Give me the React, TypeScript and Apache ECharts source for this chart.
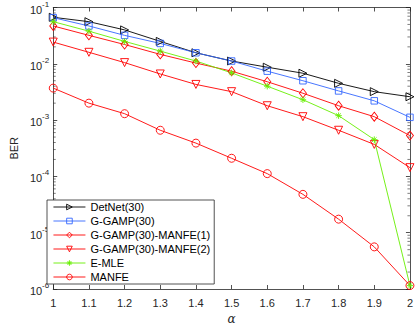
import React, { useEffect, useRef } from "react";
import * as echarts from "echarts";

const alpha = [1, 1.1, 1.2, 1.3, 1.4, 1.5, 1.6, 1.7, 1.8, 1.9, 2];
const detnet = [0.067, 0.056, 0.040, 0.025, 0.0157, 0.0112, 0.0087, 0.0068, 0.0045, 0.0032, 0.0026];
const ggamp = [0.066, 0.047, 0.032, 0.023, 0.0157, 0.0112, 0.0074, 0.0050, 0.0033, 0.0022, 0.00112];
const manfe1 = [0.047, 0.032, 0.022, 0.0147, 0.0103, 0.0074, 0.0048, 0.0030, 0.0018, 0.00115, 0.00053];
const manfe2 = [0.0243, 0.016, 0.0105, 0.0066, 0.0043, 0.0032, 0.0018, 0.00115, 0.00066, 0.00037, 0.000143];
const emle = [0.056, 0.038, 0.025, 0.0168, 0.0112, 0.0069, 0.0040, 0.0023, 0.0012, 0.00045, 0.00000115];
const manfe = [0.0037, 0.0020, 0.0013, 0.00066, 0.00039, 0.00021, 0.000112, 0.000048, 0.0000174, 0.0000056, 0.00000115];

const seriesNames = ["DetNet(30)", "G-GAMP(30)", "G-GAMP(30)-MANFE(1)", "G-GAMP(30)-MANFE(2)", "E-MLE", "MANFE"];
const decadeExponents = [-6, -5, -4, -3, -2];
const minorMultipliers = [2, 3, 4, 5, 6, 7, 8, 9];

const FONT = "Liberation Sans, Arial, Helvetica, sans-serif";
const AX = "#262626";

export default function App() {
  const ref = useRef<HTMLDivElement>(null);
  useEffect(() => {
    if (!ref.current) return;
    const chart = echarts.init(ref.current, undefined, { renderer: "svg" });
    const pairs = (ys: number[]) => alpha.map((a, i) => [a, ys[i]]);
    const minorData: number[][] = [];
    decadeExponents.forEach((e) => minorMultipliers.forEach((m) => minorData.push([1, m * Math.pow(10, e)])));

    const mk = (name: string, ys: number[], color: string, symbol: string, size: any, rotate = 0, filled = false) => ({
      name,
      type: "line",
      data: pairs(ys),
      symbol,
      symbolSize: size,
      symbolRotate: rotate,
      showSymbol: true,
      lineStyle: { color, width: 0.9 },
      itemStyle: { color: filled ? color : "transparent", borderColor: color, borderWidth: 0.9 },
      emphasis: { disabled: true },
      z: 3,
    });

    const xAxisCommon = {
      type: "value",
      min: 1,
      max: 2,
      interval: 0.1,
      axisLine: { show: true, lineStyle: { color: AX, width: 0.8 } },
      axisTick: { show: true, inside: true, length: 4, lineStyle: { color: AX, width: 0.8 } },
      splitLine: { show: false },
    };
    const yAxisCommon = {
      type: "log",
      logBase: 10,
      min: 1e-6,
      max: 1e-1,
      axisLine: { show: true, lineStyle: { color: AX, width: 0.8 } },
      axisTick: { show: true, inside: true, length: 4, lineStyle: { color: AX, width: 0.8 } },
      splitLine: { show: false },
    };

    chart.setOption({
      animation: false,
      backgroundColor: "#fff",
      grid: { left: 42, right: 6, top: 6, bottom: 34 },
      legend: {
        data: seriesNames,
        orient: "vertical",
        left: 47,
        top: 200,
        itemWidth: 32,
        itemHeight: 7,
        itemGap: 0,
        padding: [0, 4, 0, 6],
        borderColor: AX,
        borderWidth: 0.8,
        backgroundColor: "#fff",
        lineStyle: { width: 0.9 },
        itemStyle: { borderWidth: 0.9 },
        textStyle: { fontSize: 11, lineHeight: 14, color: "#000", fontFamily: FONT },
        selectedMode: false,
      },
      xAxis: [
        {
          ...xAxisCommon,
          position: "bottom",
          name: "α",
          nameLocation: "middle",
          nameGap: 24,
          nameTextStyle: { fontSize: 12, fontStyle: "italic", color: AX, fontFamily: "DejaVu Serif, serif" },
          axisLabel: {
            show: true,
            fontSize: 11,
            color: AX,
            fontFamily: FONT,
            margin: 8,
            formatter: (v: number) => String(Number(v.toFixed(1))),
          },
        },
        { ...xAxisCommon, position: "top", axisLabel: { show: false } },
      ],
      yAxis: [
        {
          ...yAxisCommon,
          position: "left",
          name: "BER",
          nameLocation: "middle",
          nameGap: 30,
          nameTextStyle: { fontSize: 11, color: AX, fontFamily: FONT },
          axisLabel: {
            show: true,
            margin: 4,
            formatter: (v: number) => `{b|10}{s|${Math.round(Math.log10(v))}}`,
            rich: {
              b: { fontSize: 11, color: AX, fontFamily: FONT, verticalAlign: "bottom" },
              s: { fontSize: 8, color: AX, fontFamily: FONT, verticalAlign: "top", padding: [0, 0, 7, 0] },
            },
          },
        },
        { ...yAxisCommon, position: "right", axisLabel: { show: false } },
      ],
      series: [
        mk(seriesNames[0], detnet, "#000000", "triangle", 8, -90),
        mk(seriesNames[1], ggamp, "#3366ff", "rect", 6.5),
        mk(seriesNames[2], manfe1, "#ff0000", "diamond", [7, 9]),
        mk(seriesNames[3], manfe2, "#ff0000", "triangle", 8, 180),
        mk(seriesNames[4], emle, "#66ee00", "path://M0,5L10,5M5,0L5,10M1.5,1.5L8.5,8.5M8.5,1.5L1.5,8.5", 6.5, 0, true),
        mk(seriesNames[5], manfe, "#ff0000", "circle", 8),
        {
          type: "custom",
          name: "minorTicks",
          silent: true,
          data: minorData,
          encode: { x: 0, y: 1 },
          z: 1,
          renderItem: (params: any, api: any) => {
            const v = api.value(1);
            const l = api.coord([1, v]);
            const r = api.coord([2, v]);
            const st = { stroke: AX, lineWidth: 0.6 };
            return {
              type: "group",
              children: [
                { type: "line", shape: { x1: l[0], y1: l[1], x2: l[0] + 2.5, y2: l[1] }, style: st },
                { type: "line", shape: { x1: r[0], y1: r[1], x2: r[0] - 2.5, y2: r[1] }, style: st },
              ],
            };
          },
        },
      ],
    } as any);
    return () => chart.dispose();
  }, []);
  return <div ref={ref} style={{ position: "fixed", left: 0, top: 0, width: 416, height: 330 }} />;
}
